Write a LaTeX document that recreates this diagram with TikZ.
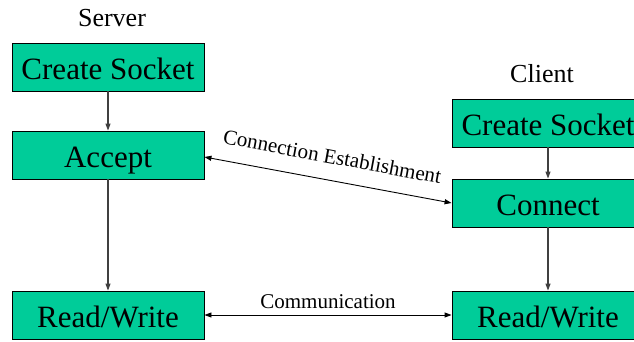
\documentclass[tikz,border=0pt]{standalone}
\usepackage{fontspec}
\setmainfont{Liberation Serif}
\usetikzlibrary{arrows.meta,positioning}
\definecolor{sockgreen}{HTML}{00CC99}

\begin{document}
\begin{tikzpicture}[x=1pt,y=1pt,>={Triangle[length=7pt,width=5pt]},
  sockbox/.style={draw=black,line width=0.9pt,fill=sockgreen,minimum width=192pt,
    minimum height=48pt,inner sep=0pt,text height=24pt,text depth=0pt,
    font=\fontsize{31}{31}\selectfont},
  side/.style={font=\fontsize{26}{26}\selectfont,inner sep=0pt},
  flow/.style={->,line width=1.1pt,black!75},
  talk/.style={<->,line width=0.9pt,black},
  talklabel/.style={font=\fontsize{21}{21}\selectfont,inner sep=0pt}]
  \useasboundingbox (0,0) rectangle (634,341);
  % server column
  \node[side] (srv) at (112,323) {Server};
  \node[sockbox] (srvCreate) at (108,274) {Create Socket};
  \node[sockbox] (srvAccept) at (108,186) {Accept};
  \node[sockbox] (srvRW) at (108,26) {Read/Write};
  % client column, cut off at the right edge
  \node[side] (cli) at (542,267) {Client};
  \node[sockbox] (cliCreate) at (548,218) {Create Socket};
  \node[sockbox] (cliConnect) at (548,138) {Connect};
  \node[sockbox] (cliRW) at (548,26) {Read/Write};
  % steps on each side
  \draw[flow] (srvCreate) -- (srvAccept);
  \draw[flow] (srvAccept) -- (srvRW);
  \draw[flow] (cliCreate) -- (cliConnect);
  \draw[flow] (cliConnect) -- (cliRW);
  % between the two
  \draw[talk] ([yshift=-2pt]srvAccept.east) -- node[talklabel,sloped,above=16pt] {Connection Establishment} (cliConnect.west);
  \draw[talk] (srvRW.east) -- node[talklabel,above=6pt] {Communication} (cliRW.west);
\end{tikzpicture}
\end{document}
